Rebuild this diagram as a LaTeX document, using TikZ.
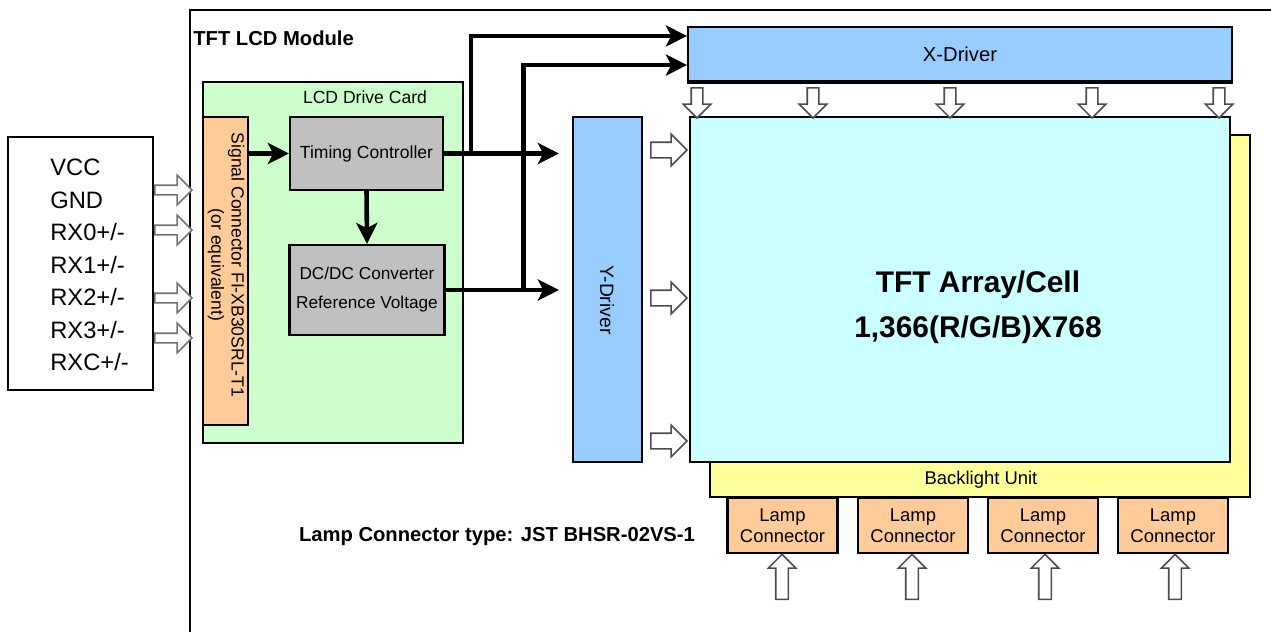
\documentclass[tikz,border=0pt]{standalone}
\usepackage{fontspec}
\setmainfont{Liberation Sans}
\usetikzlibrary{shapes,arrows.meta,positioning}

\definecolor{cardgreen}{HTML}{CCFFCC}
\definecolor{conorange}{HTML}{FFCC99}
\definecolor{tcongray}{HTML}{C0C0C0}
\definecolor{drvblue}{HTML}{99CCFF}
\definecolor{cellcyan}{HTML}{CCFFFF}
\definecolor{blyellow}{HTML}{FFFF99}

\begin{document}
\begin{tikzpicture}[x=0.02cm, y=-0.02cm,
    box/.style={rectangle, draw=black, line width=1.2pt, inner sep=0pt},
    txt/.style={font=\fontsize{10}{12}\selectfont, align=center, inner sep=0pt},
    bus/.style={-{Stealth[length=12pt,width=12pt,inset=3pt]}, line width=2.6pt},
    blk/.style={single arrow, draw=black!70, fill=white, line width=0.9pt,
                inner xsep=0pt, single arrow tip angle=90},
    inarrow/.style={blk, draw=black!55, minimum height=0.74cm, inner ysep=0.08cm,
                single arrow head extend=0.2cm},
    xarrow/.style={blk, rotate=-90, minimum height=0.6cm, inner ysep=0.1cm,
                single arrow head extend=0.16cm},
    yarrow/.style={blk, minimum height=0.72cm, inner ysep=0.14cm,
                single arrow head extend=0.16cm},
    lamparrow/.style={blk, rotate=90, minimum height=0.9cm, inner ysep=0.11cm,
                single arrow head extend=0.15cm}
]
\useasboundingbox (0,0) rectangle (1271,632);

% Module frame
\draw[line width=1.2pt] (190,10) rectangle (1300,660);
\node[anchor=west, inner sep=0pt, font=\bfseries\fontsize{11.5}{13}\selectfont]
    (modlbl) at (193,38) {TFT LCD Module};

% Interface signals
\node[box, minimum width=2.9cm, minimum height=5.06cm] (vcc) at (80.5,263.5) {};
\node[anchor=west, align=left, inner sep=0pt, font=\fontsize{13.5}{18.5}\selectfont]
    (vcctxt) at (50,265) {VCC\\GND\\RX0+/-\\RX1+/-\\RX2+/-\\RX3+/-\\RXC+/-};
\node[inarrow] (in1) at (171,190) {};
\node[inarrow] (in2) at (171,230) {};
\node[inarrow] (in3) at (171,298) {};
\node[inarrow] (in4) at (171,338) {};

% Drive card
\node[box, fill=cardgreen, minimum width=5.2cm, minimum height=7.22cm] (card) at (333,262.5) {};
\node[txt] (cardlbl) at (365,97) {LCD Drive Card};
\node[box, fill=conorange, minimum width=0.9cm, minimum height=6.16cm] (sigcon) at (225.5,271) {};
\node[txt, rotate=-90, font=\fontsize{10}{11.5}\selectfont] (sigtxt) at (226,265)
    {Signal Connector FI-XB30SRL-T1\\(or equivalent)};
\node[box, fill=tcongray, minimum width=3.06cm, minimum height=1.46cm, txt] (timing)
    at (366.5,153.5) {Timing Controller};
\node[box, fill=tcongray, minimum width=3.1cm, minimum height=1.8cm, txt,
      font=\fontsize{9.8}{16.5}\selectfont] (dcdc)
    at (367,290) {DC/DC Converter\\Reference Voltage};

% Backlight, cell and drivers
\node[box, fill=blyellow, minimum width=10.8cm, minimum height=7.24cm] (blu) at (980,316) {};
\node[txt, font=\fontsize{10.5}{12}\selectfont] (blutxt) at (981,480) {Backlight Unit};
\node[box, fill=cellcyan, minimum width=10.8cm, minimum height=6.9cm] (tft) at (960,289.5) {};
\node[txt, font=\bfseries\fontsize{17}{25.6}\selectfont] (tfttxt) at (978,307)
    {TFT Array/Cell\\1,366(R/G/B)X768};
\node[box, fill=drvblue, minimum width=10.88cm, minimum height=1.08cm, txt,
      font=\fontsize{11.5}{13}\selectfont] (xdrv) at (960,54) {X-Driver};
\draw[line width=2.4pt] (xdrv.south west) -- (xdrv.south east);
\node[box, fill=drvblue, minimum width=1.38cm, minimum height=6.9cm] (ydrv) at (607.5,289.5) {};
\node[txt, rotate=-90, font=\fontsize{11}{13}\selectfont] (ydrvtxt) at (607,300) {Y-Driver};

% Driver outputs
\node[xarrow] (xa1) at (697,100) {};
\node[xarrow] (xa2) at (813,100) {};
\node[xarrow] (xa3) at (950,100) {};
\node[xarrow] (xa4) at (1092,100) {};
\node[xarrow] (xa5) at (1219,100) {};
\node[yarrow] (ya1) at (665,150) {};
\node[yarrow] (ya2) at (665,298) {};
\node[yarrow] (ya3) at (665,441) {};

% Lamp connectors
\node[box, fill=conorange, minimum width=2.2cm, minimum height=1.1cm, txt,
      font=\fontsize{10.5}{12}\selectfont] (lamp1) at (782.5,525.5) {Lamp\\Connector};
\node[box, fill=conorange, minimum width=2.2cm, minimum height=1.1cm, txt,
      font=\fontsize{10.5}{12}\selectfont] (lamp2) at (913,525.5) {Lamp\\Connector};
\node[box, fill=conorange, minimum width=2.2cm, minimum height=1.1cm, txt,
      font=\fontsize{10.5}{12}\selectfont] (lamp3) at (1043,525.5) {Lamp\\Connector};
\node[box, fill=conorange, minimum width=2.2cm, minimum height=1.1cm, txt,
      font=\fontsize{10.5}{12}\selectfont] (lamp4) at (1173,525.5) {Lamp\\Connector};
\node[lamparrow] (la1) at (782,580) {};
\node[lamparrow] (la2) at (912,580) {};
\node[lamparrow] (la3) at (1045,580) {};
\node[lamparrow] (la4) at (1175,580) {};
\node[txt, font=\bfseries\fontsize{11.5}{13}\selectfont] (lamptype) at (497,537)
    {Lamp Connector type: JST BHSR-02VS-1};

% Signal paths
\draw[bus] (sigcon.east |- timing.west) -- (timing.west);
\draw[bus] (timing.south) -- (dcdc.north);
\draw[bus, shorten >=0.26cm] (timing.east) -- (timing.east -| ydrv.west);
\coordinate (tj) at ([xshift=0.54cm]timing.east);
\draw[bus] (tj) |- ([yshift=-0.2cm]xdrv.north west);
\draw[bus, shorten >=0.26cm] (dcdc.east) -- (dcdc.east -| ydrv.west);
\coordinate (dj) at ([xshift=1.56cm]dcdc.east);
\draw[bus] (dj) |- ([yshift=0.34cm]xdrv.south west);

\end{tikzpicture}
\end{document}
